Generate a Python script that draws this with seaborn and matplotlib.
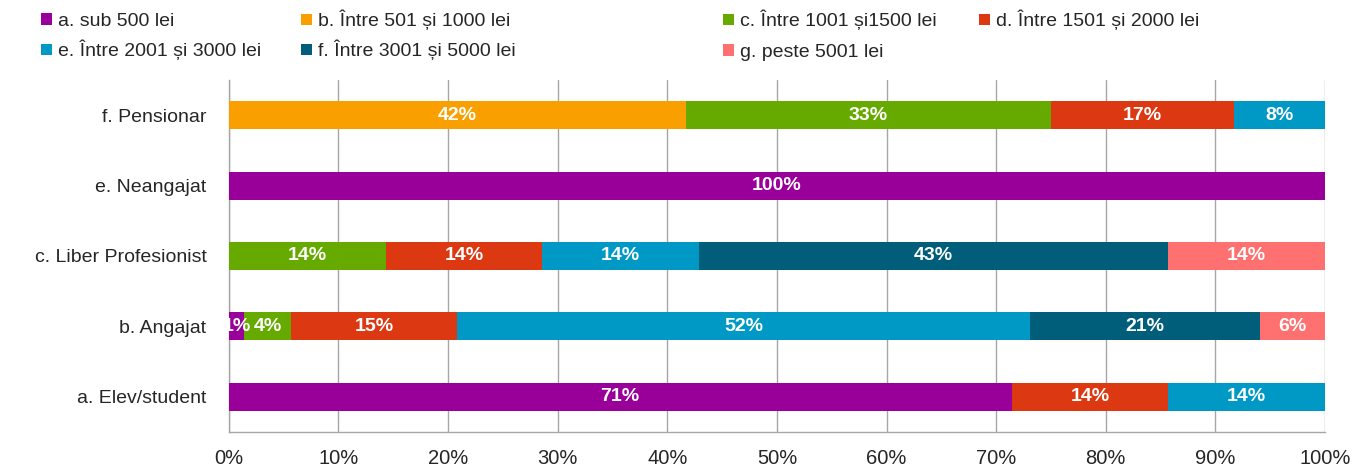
import numpy as np
import pandas as pd
import seaborn as sns
import matplotlib.pyplot as plt
from matplotlib.patches import Patch
from matplotlib.ticker import FixedLocator, PercentFormatter

# categories, top to bottom
categories = ["f. Pensionar", "e. Neangajat", "c. Liber Profesionist", "b. Angajat", "a. Elev/student"]

# share of each income band per category (%)
sub500 = [0, 100, 0, 1.4, 71.4]
b501_1000 = [41.7, 0, 0, 0, 0]
b1001_1500 = [33.3, 0, 14.3, 4.3, 0]
b1501_2000 = [16.7, 0, 14.3, 15.1, 14.3]
b2001_3000 = [8.3, 0, 14.3, 52.3, 14.3]
b3001_5000 = [0, 0, 42.8, 21.0, 0]
peste5001 = [0, 0, 14.3, 5.9, 0]

series_labels = ["a. sub 500 lei", "b. Între 501 și 1000 lei", "c. Între 1001 și1500 lei",
                 "d. Între 1501 și 2000 lei", "e. Între 2001 și 3000 lei",
                 "f. Între 3001 și 5000 lei", "g. peste 5001 lei"]
colors = ["#990099", "#F9A000", "#66AA00", "#DC3912", "#0099C6", "#005E7A", "#FF7070"]

series = [sub500, b501_1000, b1001_1500, b1501_2000, b2001_3000, b3001_5000, peste5001]

sns.set_style("white")
plt.rcParams['font.family'] = ['Liberation Sans', 'DejaVu Sans']

df = pd.DataFrame(np.array(series).T, columns=series_labels)
df.insert(0, "cat", categories)
cum = df[series_labels].cumsum(axis=1)

fig = plt.figure(figsize=(13.54, 4.68), dpi=100)
ax = fig.add_axes([0.169, 0.077, 0.8096, 0.752])

# stacked bars: draw cumulative totals from last band to first
for lab, col in reversed(list(zip(series_labels, colors))):
    sns.barplot(x=cum[lab], y=df["cat"], color=col, orient="h", width=0.4,
                ax=ax, zorder=3, linewidth=0, saturation=1)

# value labels
for i in range(len(categories)):
    left = 0
    for lab in series_labels:
        v = df.loc[i, lab]
        if v > 0:
            ax.text(left + v / 2, i, f"{v:.0f}%", ha="center", va="center",
                    color="white", fontsize=14, fontweight="bold", zorder=4)
        left += v

ax.set_xlim(0, 100)
ax.set_ylim(len(categories) - 0.5, -0.5)
ax.set_xlabel("")
ax.set_ylabel("")
ax.xaxis.set_major_locator(FixedLocator(np.arange(0, 101, 10)))
ax.xaxis.set_major_formatter(PercentFormatter(decimals=0))
ax.grid(axis="x", color="#A6A6A6", linewidth=1, zorder=0)
ax.set_axisbelow(True)

for s in ["top", "right"]:
    ax.spines[s].set_visible(False)
for s in ["left", "bottom"]:
    ax.spines[s].set_color("#A6A6A6")
    ax.spines[s].set_linewidth(1)

ax.tick_params(axis="x", which="major", length=5, color="#A6A6A6", labelsize=14.5, pad=7)
ax.tick_params(axis="y", which="major", length=0, labelsize=14, pad=16)
ax.yaxis.set_minor_locator(FixedLocator(np.arange(-0.5, len(categories), 1)))
ax.tick_params(axis="y", which="minor", length=5, color="#A6A6A6")

# legend: two rows, manually placed entries (centred vertically on each row)
positions = [(0.021, 0.955), (0.213, 0.957), (0.525, 0.957), (0.714, 0.957),
             (0.021, 0.893), (0.213, 0.893), (0.525, 0.888)]
for lab, col, (px, py) in zip(series_labels, colors, positions):
    h = Patch(facecolor=col, edgecolor="none")
    fig.legend([h], [lab], loc="center left", bbox_to_anchor=(px, py), frameon=False,
               fontsize=14, handlelength=0.55, handleheight=0.55, handletextpad=0.3,
               borderpad=0.15)

fig.savefig("out.png", dpi=100)
